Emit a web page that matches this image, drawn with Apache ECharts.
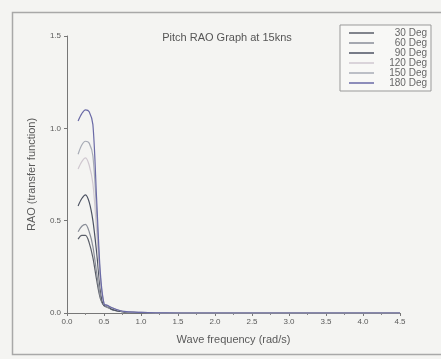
<!DOCTYPE html>
<html><head><meta charset="utf-8">
<script src="https://cdn.jsdelivr.net/npm/echarts@6/dist/echarts.min.js"></script>
<style>html,body{margin:0;padding:0;background:#f4f4f2;}#c{width:441px;height:359px;}</style>
</head><body><div id="c"></div>
<script>
var freq = [0.15,0.2,0.25,0.3,0.35,0.4,0.45,0.5,0.55,0.6,0.7,0.8,1.0,1.2,1.5,2.0,2.5,3.0,3.5,4.0,4.5];
var deg30  = [0.40,0.42,0.42,0.38,0.30,0.18,0.08,0.04,0.03,0.02,0.01,0.005,0.002,0.001,0,0,0,0,0,0,0];
var deg60  = [0.44,0.47,0.48,0.44,0.36,0.22,0.09,0.04,0.03,0.02,0.01,0.005,0.002,0.001,0,0,0,0,0,0,0];
var deg90  = [0.58,0.62,0.64,0.60,0.50,0.33,0.13,0.04,0.04,0.02,0.01,0.005,0.002,0.001,0,0,0,0,0,0,0];
var deg120 = [0.78,0.82,0.84,0.80,0.70,0.45,0.17,0.05,0.04,0.03,0.015,0.007,0.003,0.001,0,0,0,0,0,0,0];
var deg150 = [0.86,0.91,0.93,0.92,0.85,0.55,0.20,0.05,0.04,0.03,0.015,0.007,0.003,0.001,0,0,0,0,0,0,0];
var deg180 = [1.04,1.08,1.10,1.09,1.02,0.62,0.22,0.05,0.04,0.03,0.015,0.007,0.003,0.001,0,0,0,0,0,0,0];
var seriesNames = ['30 Deg','60 Deg','90 Deg','120 Deg','150 Deg','180 Deg'];
var seriesData = [deg30,deg60,deg90,deg120,deg150,deg180];
var colors = ['#5a5e68','#8a8e98','#4c5262','#d0c8d0','#a8acb6','#6a6aa6'];

function pairs(ys){ return freq.map(function(x,i){return [x, ys[i]];}); }

var chart = echarts.init(document.getElementById('c'));
var txt = '#5a5a5a';
chart.setOption({
  backgroundColor: '#f4f4f2',
  animation: false,
  color: colors,
  textStyle: {fontFamily: 'Liberation Sans'},
  title: {
    text: 'Pitch RAO Graph at 15kns', left: 222, top: 27, textAlign: 'center',
    textStyle: {fontSize: 11, fontWeight: 'normal', color: '#555'}
  },
  graphic: [{
    type: 'rect', shape: {x: 12.5, y: 12.5, width: 440, height: 342},
    style: {fill: 'none', stroke: '#a8a8a8', lineWidth: 1.5}, silent: true
  }],
  legend: {
    left: 340, top: 25, orient: 'vertical', itemGap: 0,
    itemWidth: 25, itemHeight: 1.5,
    icon: 'rect',
    backgroundColor: '#f8f8f6', borderColor: '#999', borderWidth: 1,
    padding: [3, 4, 3, 9],
    formatter: function(n){ return '{a|' + n + '}'; },
    textStyle: {fontSize: 10, color: '#666',
      rich: {a: {fontSize: 10, lineHeight: 11, color: '#666', width: 48, align: 'right'}}},
    data: seriesNames
  },
  grid: {left: 67, right: 41, top: 36, bottom: 46},
  xAxis: {
    type: 'value', min: 0, max: 4.5, interval: 0.5,
    name: 'Wave frequency (rad/s)', nameLocation: 'middle', nameGap: 21,
    nameTextStyle: {fontSize: 11, color: txt},
    axisLine: {lineStyle: {color: '#777', width: 1}},
    axisTick: {show: true, length: 3, lineStyle: {color: '#777'}},
    minorTick: {show: true, splitNumber: 2, length: 2, lineStyle: {color: '#888'}},
    axisLabel: {fontSize: 8, color: txt, margin: 5, formatter: function(v){return v.toFixed(1);}},
    splitLine: {show: false}
  },
  yAxis: {
    type: 'value', min: 0, max: 1.5, interval: 0.5,
    name: 'RAO (transfer function)', nameLocation: 'middle', nameGap: 30,
    nameTextStyle: {fontSize: 11, color: txt},
    axisLine: {show: true, lineStyle: {color: '#777', width: 1}},
    axisTick: {show: true, length: 3, lineStyle: {color: '#777'}},
    axisLabel: {fontSize: 8, color: txt, margin: 6, formatter: function(v){return v.toFixed(1);}},
    splitLine: {show: false}
  },
  series: seriesNames.map(function(n, i){
    return {name: n, type: 'line', data: pairs(seriesData[i]), symbol: 'none',
      smooth: 0.3, lineStyle: {width: 1.2, color: colors[i]}, itemStyle: {color: colors[i]}};
  })
});
</script></body></html>
